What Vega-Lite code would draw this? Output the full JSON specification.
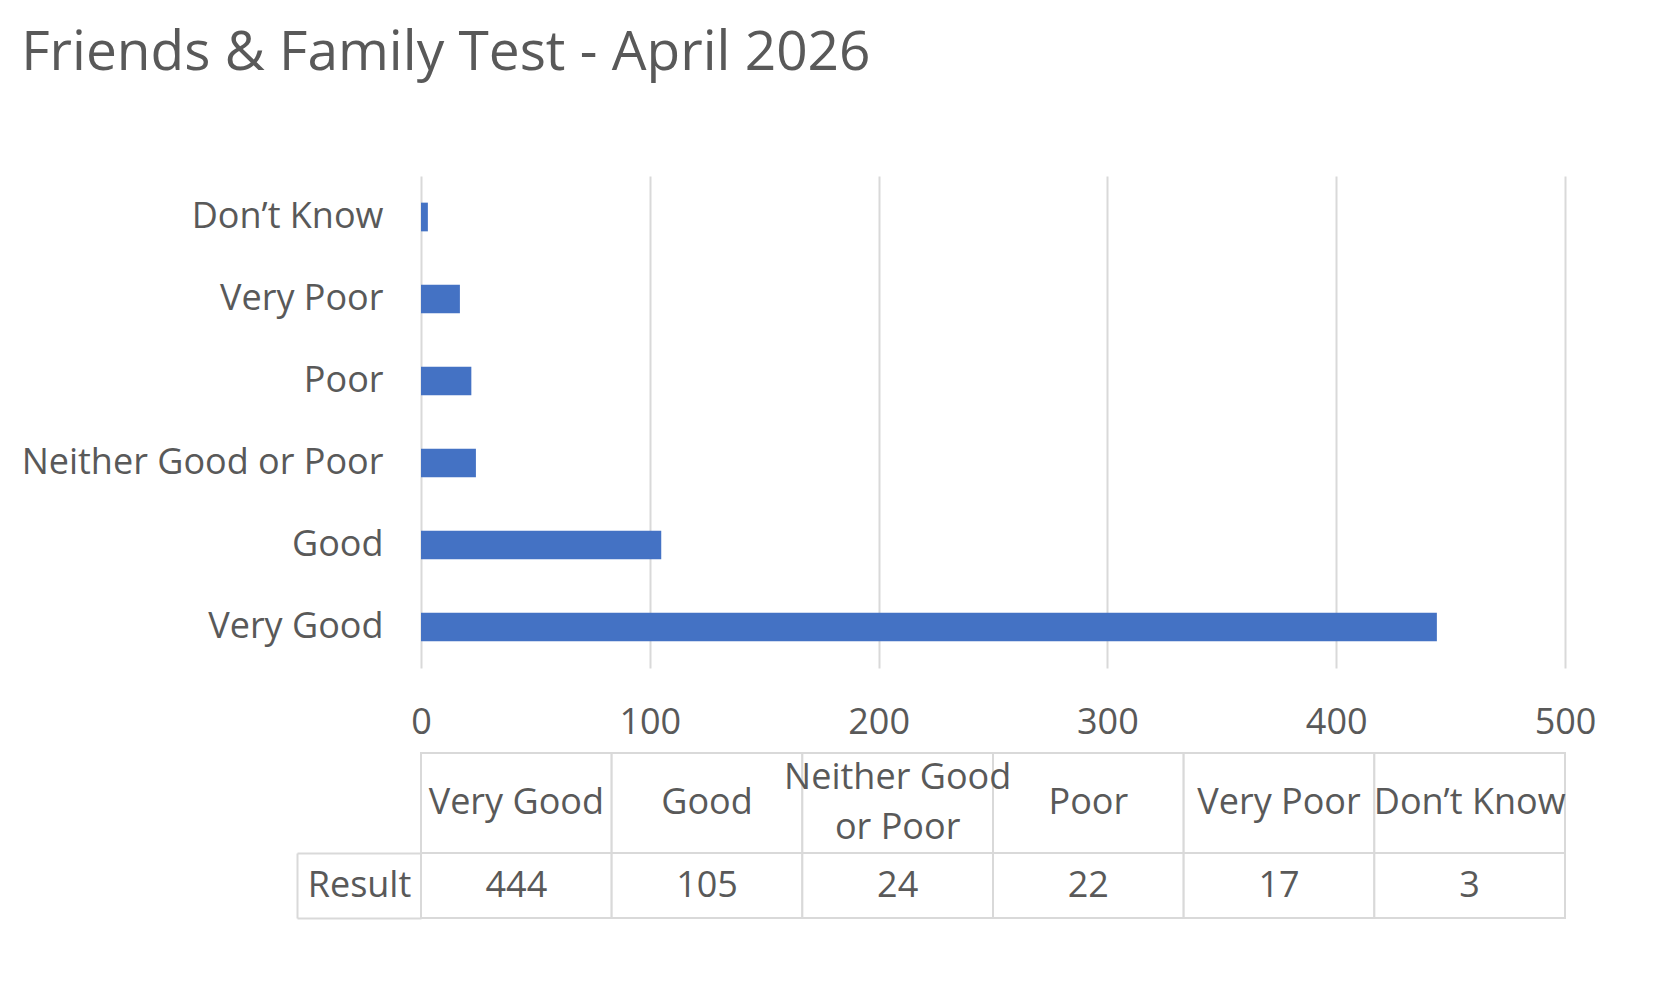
{
  "$schema": "https://vega.github.io/schema/vega-lite/v6.json",
  "padding": {"left": 21, "top": 26, "right": 20, "bottom": 20},
  "background": "white",
  "config": {
    "font": "Open Sans",
    "view": {"stroke": null},
    "axis": {"labelFont": "Open Sans", "labelColor": "#595959", "labelFontSize": 36, "labelLimit": 0}
  },
  "title": {
    "text": "Friends & Family Test - April 2026",
    "anchor": "start",
    "frame": "bounds",
    "fontSize": 55,
    "fontWeight": "normal",
    "font": "Open Sans",
    "color": "#595959",
    "offset": 94
  },
  "datasets": {
    "results": [
      {"category": "Very Good", "header": "Very Good", "result": 444},
      {"category": "Good", "header": "Good", "result": 105},
      {"category": "Neither Good or Poor", "header": "Neither Good\nor Poor", "result": 24},
      {"category": "Poor", "header": "Poor", "result": 22},
      {"category": "Very Poor", "header": "Very Poor", "result": 17},
      {"category": "Don’t Know", "header": "Don’t Know", "result": 3}
    ]
  },
  "data": {"name": "results"},
  "bounds": "flush",
  "spacing": 85,
  "vconcat": [
    {
      "width": 1144,
      "height": 492,
      "mark": {"type": "bar", "color": "#4472C4"},
      "encoding": {
        "y": {
          "field": "category",
          "type": "nominal",
          "sort": ["Don’t Know", "Very Poor", "Poor", "Neither Good or Poor", "Good", "Very Good"],
          "scale": {"paddingInner": 0.65, "paddingOuter": 0.325},
          "axis": {"title": null, "ticks": false, "domain": false, "grid": false, "labelPadding": 38}
        },
        "x": {
          "field": "result",
          "type": "quantitative",
          "scale": {"domain": [0, 500], "nice": false},
          "axis": {
            "title": null,
            "values": [0, 100, 200, 300, 400, 500],
            "ticks": false,
            "domain": false,
            "grid": true,
            "gridColor": "#d9d9d9",
            "gridWidth": 2,
            "labelPadding": 37,
            "labelFlush": false
          }
        }
      }
    },
    {
      "bounds": "flush",
      "spacing": 0,
      "vconcat": [
        {
          "width": 1144,
          "height": 100,
          "encoding": {
            "x": {
              "field": "category",
              "type": "nominal",
              "sort": null,
              "scale": {"paddingInner": 0, "paddingOuter": 0},
              "axis": null
            }
          },
          "layer": [
            {"mark": {"type": "rect", "fill": "white", "stroke": "#d9d9d9", "strokeWidth": 2}},
            {
              "transform": [{"filter": "datum.category != 'Neither Good or Poor'"}],
              "mark": {"type": "text", "fontSize": 36, "color": "#595959", "font": "Open Sans"},
              "encoding": {"text": {"field": "header", "type": "nominal"}}
            },
            {
              "transform": [{"filter": "datum.category == 'Neither Good or Poor'"}],
              "mark": {"type": "text", "fontSize": 36, "color": "#595959", "lineBreak": "\n", "lineHeight": 50, "dy": -25, "font": "Open Sans"},
              "encoding": {"text": {"field": "header", "type": "nominal"}}
            }
          ]
        },
        {
          "width": 1144,
          "height": 65,
          "encoding": {
            "x": {
              "field": "category",
              "type": "nominal",
              "sort": null,
              "scale": {"paddingInner": 0, "paddingOuter": 0},
              "axis": null
            },
            "y": {
              "datum": "Result",
              "type": "nominal",
              "scale": {"paddingInner": 0, "paddingOuter": 0},
              "axis": {
                "title": null,
                "offset": 124,
                "domain": true,
                "domainColor": "#d9d9d9",
                "domainWidth": 2,
                "ticks": true,
                "tickSize": -124,
                "tickBand": "extent",
                "tickColor": "#d9d9d9",
                "tickWidth": 2,
                "labelPadding": 62,
                "labelAlign": "center",
                "labelBaseline": "middle"
              }
            }
          },
          "layer": [
            {"mark": {"type": "rect", "fill": "white", "stroke": "#d9d9d9", "strokeWidth": 2}},
            {
              "mark": {"type": "text", "fontSize": 36, "color": "#595959", "font": "Open Sans"},
              "encoding": {"text": {"field": "result", "type": "quantitative"}}
            }
          ]
        }
      ]
    }
  ]
}
